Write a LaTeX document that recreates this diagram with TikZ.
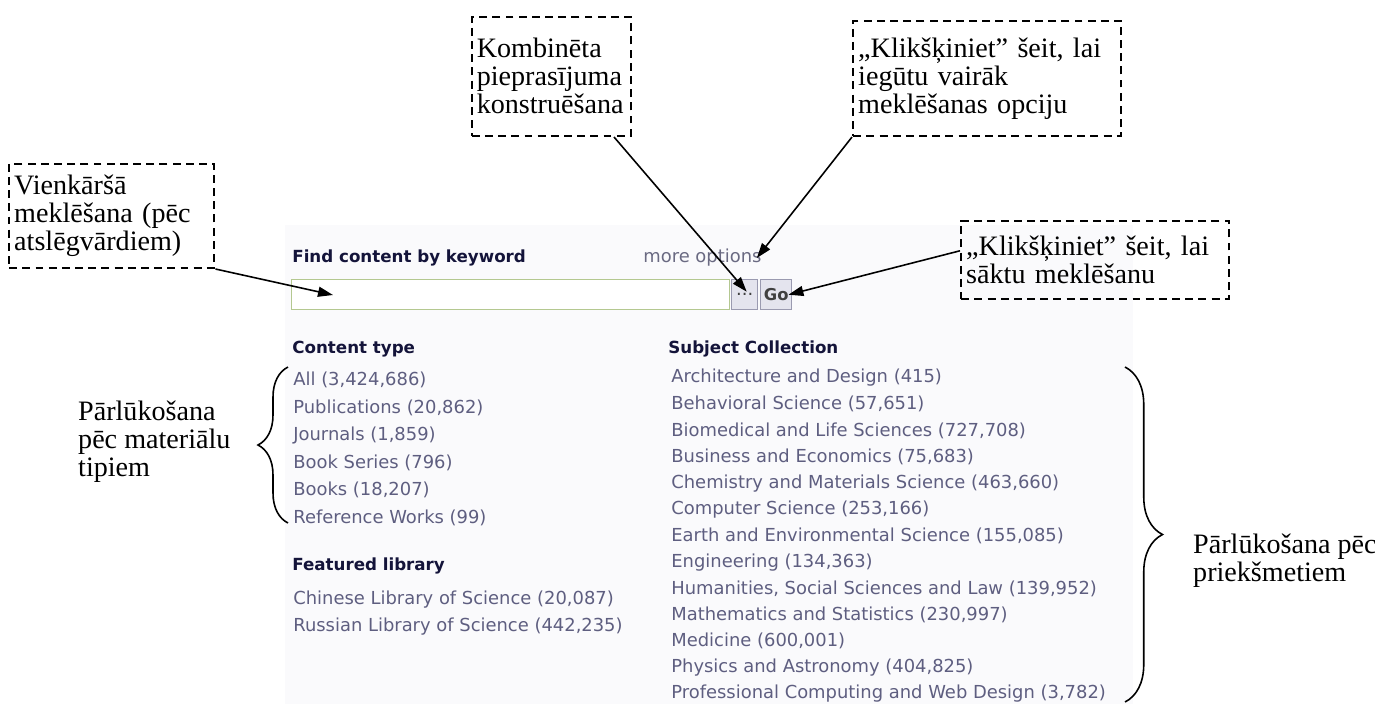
\documentclass[tikz,border=0pt]{standalone}
\usepackage{fontspec}
\setmainfont{Liberation Serif}
\newfontfamily\webfont{DejaVu Sans}
\usetikzlibrary{arrows.meta,calc,decorations.pathreplacing}

\definecolor{linkgray}{HTML}{5E5E80}
\definecolor{headblue}{HTML}{14143A}
\definecolor{moregray}{HTML}{6A6A82}
\definecolor{boxgreen}{HTML}{B4C890}
\definecolor{btnfill}{HTML}{E4E4EE}
\definecolor{btnline}{HTML}{9A9AB0}
\definecolor{panel}{HTML}{FAFAFC}

\tikzset{
  callout/.style={draw,line width=1.4pt,dash pattern=on 4.5pt off 3pt,align=left,
    inner xsep=0.1cm,inner ysep=0.1cm,anchor=south west,
    font=\fontsize{16}{15.9}\selectfont},
  heading/.style={font=\webfont\bfseries\fontsize{9.5}{11}\selectfont,text=headblue},
  button/.style={draw=btnline,fill=btnfill,line width=0.8pt,anchor=north west,
    minimum height=0.6cm,inner sep=0pt,text=black!75},
}

\begin{document}
\begin{tikzpicture}[x=0.02cm,y=-0.02cm]

        \useasboundingbox (0,0) rectangle (1375,704);
        \fill[panel] (285,225) rectangle (1133,704);

        % search form
        \begin{scope}[every node/.style={anchor=west,inner sep=0pt,text=linkgray,
            font=\webfont\fontsize{10.2}{12}\selectfont}]
          \node[heading] (kwhead) at (292,258) {Find content by keyword};
          \node[text=moregray] (more) at (643,258) {more options};
          \node[draw=boxgreen,fill=white,line width=0.8pt,anchor=north west,
            minimum width=8.76cm,minimum height=0.6cm] (kwbox) at (291,279) {};
          \node[button,minimum width=0.52cm] (dots) at (731,279) {...};
          \node[button,minimum width=0.62cm,font=\webfont\bfseries\fontsize{9.3}{11}\selectfont] (go) at (760,279) {Go};

          \node[heading] (cthead) at (292,349) {Content type};
          \node (c1) at (293,380)   {All (3,424,686)};
          \node (c2) at (293,407.5) {Publications (20,862)};
          \node (c3) at (293,435)   {Journals (1,859)};
          \node (c4) at (293,462.5) {Book Series (796)};
          \node (c5) at (293,490)   {Books (18,207)};
          \node (c6) at (293,518)   {Reference Works (99)};

          \node[heading] (flhead) at (292,566) {Featured library};
          \node (f1) at (293,600) {Chinese Library of Science (20,087)};
          \node (f2) at (293,627) {Russian Library of Science (442,235)};

          \node[heading] (schead) at (668,349) {Subject Collection};
          \node (s1)  at (671,378)   {Architecture and Design (415)};
          \node (s2)  at (671,404.3) {Behavioral Science (57,651)};
          \node (s3)  at (671,430.6) {Biomedical and Life Sciences (727,708)};
          \node (s4)  at (671,456.9) {Business and Economics (75,683)};
          \node (s5)  at (671,483.2) {Chemistry and Materials Science (463,660)};
          \node (s6)  at (671,509.5) {Computer Science (253,166)};
          \node (s7)  at (671,535.8) {Earth and Environmental Science (155,085)};
          \node (s8)  at (671,562.1) {Engineering (134,363)};
          \node (s9)  at (671,588.4) {Humanities, Social Sciences and Law (139,952)};
          \node (s10) at (671,614.7) {Mathematics and Statistics (230,997)};
          \node (s11) at (671,641)   {Medicine (600,001)};
          \node (s12) at (671,667.3) {Physics and Astronomy (404,825)};
          \node (s13) at (671,693.6) {Professional Computing and Web Design (3,782)};
        \end{scope}

        % callouts
        \node[callout,text width=3.9cm,minimum height=2.08cm] (simple) at (8,269)
          {Vienkāršā\\meklēšana (pēc\\atslēgvārdiem)};
        \node[callout,anchor=south east,text width=2.98cm,minimum height=2.38cm] (combo) at (632,137)
          {Kombinēta\\pieprasījuma\\konstruēšana};
        \node[callout,text width=5.16cm,minimum height=2.3cm] (options) at (852,137)
          {„Klikšķiniet” šeit, lai\\iegūtu vairāk\\meklēšanas opciju};
        \node[callout,text width=5.16cm,minimum height=1.56cm] (start) at (960,300)
          {„Klikšķiniet” šeit, lai\\sāktu meklēšanu};

        \node[anchor=west,align=left,font=\fontsize{16}{15.9}\selectfont] (bytype) at (72,442)
          {Pārlūkošana\\pēc materiālu\\tipiem};
        \node[anchor=west,align=left,font=\fontsize{16}{15.9}\selectfont] (bysubj) at (1187,561)
          {Pārlūkošana pēc\\priekšmetiem};

        \coordinate (kwtip) at (333,295);
        \coordinate (ctTop) at (288,367);
        \coordinate (ctBot) at (288,523);
        \coordinate (scTop) at (1125,367);
        \coordinate (scBot) at (1125,702);

        \begin{scope}[every edge/.style={draw,line width=0.9pt,-{Triangle[length=0.3cm,width=0.2cm]}}]
          \path (simple.south east) edge (kwtip);
          \path ($(combo.south east)+(-18,0)$) edge ($(dots.center)+(2,-3)$);
          \path (options.south west) edge ($(more.east)+(-5,0)$);
          \path ($(start.west)+(0,-9)$) edge ($(go.east)+(-4,0)$);
        \end{scope}

        \draw[decorate,decoration={brace,amplitude=0.6cm},line width=0.9pt] (ctBot) -- (ctTop);
        \draw[decorate,decoration={brace,amplitude=0.75cm},line width=0.9pt] (scTop) -- (scBot);

      \end{tikzpicture}
\end{document}
